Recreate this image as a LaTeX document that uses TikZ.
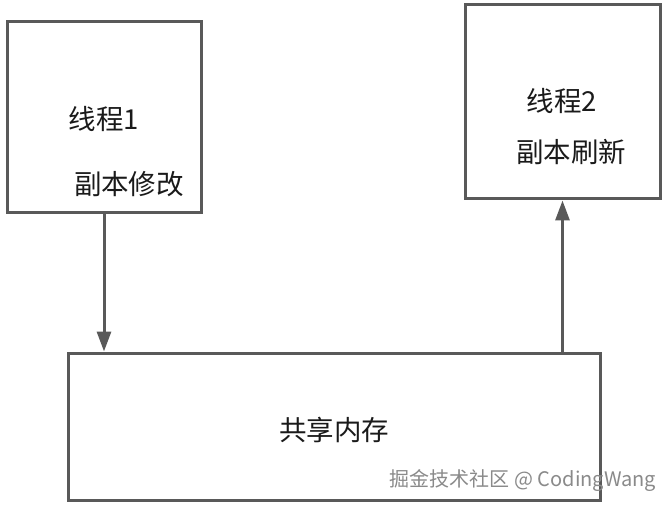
\documentclass[tikz,border=0pt]{standalone}
\usepackage{fontspec}
\setmainfont{Noto Sans CJK SC}
\usetikzlibrary{arrows.meta, positioning, calc}
\usepackage{xcolor}
\definecolor{edge}{HTML}{595959}
\definecolor{ink}{HTML}{1A1A1A}
\definecolor{mark}{HTML}{8A8A8A}

\begin{document}
\begin{tikzpicture}[
    x=1pt, y=-1pt,
    box/.style={draw=edge, line width=3pt, inner sep=0pt},
    arrow/.style={-{Triangle[width=14pt,length=20pt]}, draw=edge, line width=3pt},
    lbl/.style={font=\fontsize{27.5}{30}\selectfont, text=ink, inner sep=0pt}
]
    \fill[white] (0,0) rectangle (670,508);
    \useasboundingbox (0,0) rectangle (670,508);
    \node[box, minimum width=194pt, minimum height=191pt] (thr1) at (104,117.5) {};
    \node[box, minimum width=195pt, minimum height=194pt] (thr2) at (562.5,102) {};
    \node[box, minimum width=532pt, minimum height=147pt] (mem) at (334,426.5) {};
    \node[lbl] (t1) at (104,119) {线程1};
    \node[lbl] (c1) at (129,184) {副本修改};
    \node[lbl] (t2) at (562,101) {线程2};
    \node[lbl] (c2) at (571,152) {副本刷新};
    \node[lbl] (sm) at (334,430) {共享内存};
    \draw[arrow] (thr1.south) -- (thr1.south |- mem.north);
    \draw[arrow] (mem.north -| thr2.south) -- (thr2.south);
    \node[font=\fontsize{20}{22}\selectfont, text=mark, inner sep=0pt] (wm) at (523,481) {掘金技术社区 @ CodingWang};
\end{tikzpicture}
\end{document}
